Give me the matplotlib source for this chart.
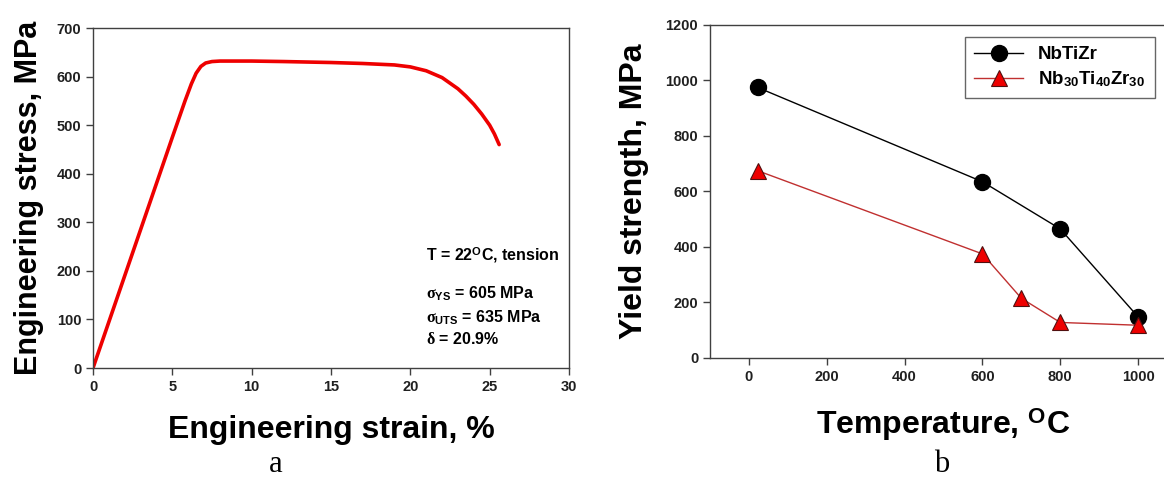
import numpy as np
import matplotlib
matplotlib.use('Agg')
import matplotlib.pyplot as plt

plt.rcParams['font.family'] = 'Liberation Sans'
plt.rcParams['font.weight'] = 'bold'
plt.rcParams['mathtext.fontset'] = 'custom'
plt.rcParams['mathtext.rm'] = 'Liberation Sans:bold'
plt.rcParams['mathtext.bf'] = 'Liberation Sans:bold'
plt.rcParams['mathtext.it'] = 'Liberation Serif'

# tensile curve at room temperature
strain = [0, 1, 2, 3, 4, 5, 5.8, 6.2, 6.5, 6.8, 7.1, 7.5, 8, 10, 12, 15, 17, 19, 20, 21,
          22, 23, 23.5, 24, 24.5, 25, 25.3, 25.6]
stress = [0, 95, 190, 285, 380, 475, 550, 585, 607, 621, 628, 631, 632, 632, 631, 629, 627,
          624, 620, 612, 598, 575, 560, 543, 523, 500, 482, 460]

# yield strength vs temperature
temp_a = [22, 600, 800, 1000]
ys_a = [975, 635, 465, 148]
temp_b = [22, 600, 700, 800, 1000]
ys_b = [675, 375, 215, 128, 118]

fig = plt.figure(figsize=(11.64, 4.8), dpi=100)
spine_col = '#404040'

def style(ax):
    for s in ax.spines.values():
        s.set_color(spine_col)
        s.set_linewidth(1.0)
    ax.tick_params(direction='out', length=5, width=1, color=spine_col,
                   labelsize=10.5, top=False, right=False)
    for lab in ax.get_xticklabels() + ax.get_yticklabels():
        lab.set_fontweight('bold')
        lab.set_color('#202020')

# panel a
ax1 = fig.add_axes([0.0799, 0.2333, 0.4089, 0.7083])
ax1.plot(strain, stress, color='#ee0000', lw=2.6, solid_capstyle='round',
         solid_joinstyle='round')
ax1.set_xlim(0, 30)
ax1.set_ylim(0, 700)
ax1.set_xticks(range(0, 31, 5))
ax1.set_yticks(range(0, 701, 100))
style(ax1)
ax1.set_xlabel('Engineering strain, %', fontsize=23, fontweight='bold', labelpad=15)
ax1.set_ylabel('Engineering stress, MPa', fontsize=22, fontweight='bold', labelpad=9)
tx = dict(fontsize=11.5, fontweight='bold', va='center')
ax1.text(21.0, 233, r'T = 22$^{\mathbf{O}}$C, tension', **tx)
ax1.text(21.0, 152, r'$\sigma_{\mathbf{YS}}$ = 605 MPa', **tx)
ax1.text(21.0, 104, r'$\sigma_{\mathbf{UTS}}$ = 635 MPa', **tx)
ax1.text(21.0, 60, r'$\delta$ = 20.9%', **tx)
fig.text(276 / 1164, 1 - 465 / 480, 'a', family='Liberation Serif', fontweight='normal',
         fontsize=22, ha='center', va='center')

# panel b
ax2 = fig.add_axes([0.61, 0.2542, 0.4012, 0.6938])
ax2.plot(temp_a, ys_a, color='black', lw=1.0, marker='o', ms=11.5,
         mfc='black', mec='black', label='NbTiZr')
ax2.plot(temp_b, ys_b, color='#c03030', lw=1.0, marker='^', ms=12,
         mfc='#ee0000', mec='#501010', mew=0.8,
         label=r'Nb$_{30}$Ti$_{40}$Zr$_{30}$')
ax2.set_xlim(-100, 1100)
ax2.set_ylim(0, 1200)
ax2.set_xticks(range(0, 1001, 200))
ax2.set_yticks(range(0, 1201, 200))
style(ax2)
ax2.set_xlabel(r'Temperature, $^{\mathbf{O}}$C', fontsize=23, fontweight='bold', labelpad=16)
ax2.set_ylabel('Yield strength, MPa', fontsize=23, fontweight='bold', labelpad=12)
leg = ax2.legend(loc='upper left', bbox_to_anchor=(0.546, 0.964), borderaxespad=0,
                 frameon=True, fancybox=False, edgecolor=spine_col, fontsize=13.5,
                 handlelength=2.6, borderpad=0.5, labelspacing=0.3)
leg.get_frame().set_linewidth(1.0)
fig.text(942 / 1164, 1 - 465 / 480, 'b', family='Liberation Serif', fontweight='normal',
         fontsize=22, ha='center', va='center')

fig.savefig('out.png', dpi=100)
